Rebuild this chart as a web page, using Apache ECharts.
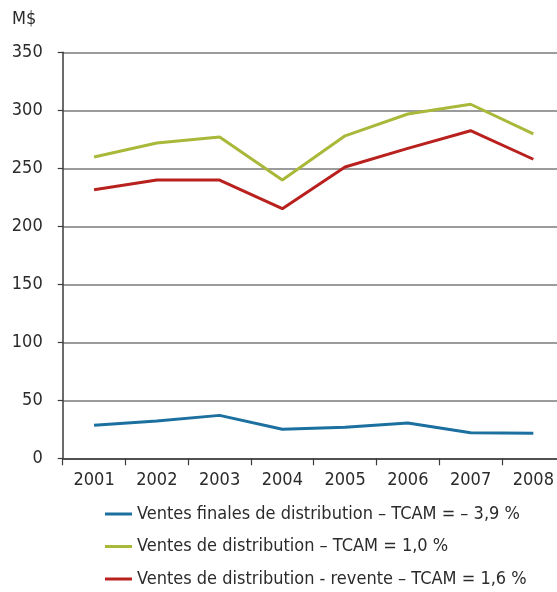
<!DOCTYPE html>
<html>
<head>
<meta charset="utf-8">
<script src="https://cdn.jsdelivr.net/npm/echarts@6/dist/echarts.min.js"></script>
<style>
  html, body { margin: 0; padding: 0; background: #fff; }
  #chart { width: 557px; height: 592px; }
</style>
</head>
<body>
<div id="chart"></div>
<script>
// Years on the category axis
const years = ['2001', '2002', '2003', '2004', '2005', '2006', '2007', '2008'];

// Sales, in millions of dollars
const ventesFinales = [28.4, 32.2, 37.0, 25.0, 26.7, 30.4, 22.0, 21.5];
const ventesDistribution = [259.7, 271.8, 277.0, 239.9, 278.0, 296.8, 305.2, 279.6];
const ventesRevente = [231.6, 239.9, 239.9, 215.2, 251.1, 267.2, 282.4, 257.8];

const seriesNames = [
  'Ventes finales de distribution – TCAM = – 3,9 %',
  'Ventes de distribution – TCAM = 1,0 %',
  'Ventes de distribution - revente – TCAM = 1,6 %'
];

// Value axis ticks
const yMin = 0, yMax = 350, yStep = 50;
const unitLabel = 'M$';

const FONT = '"DejaVu Sans Condensed", "Liberation Sans Narrow", "Roboto", sans-serif';
const TEXT = '#2b2b2b';
const colors = ['#1c70a0', '#aab83a', '#b8211d'];

const chart = echarts.init(document.getElementById('chart'), null, { renderer: 'canvas' });

chart.setOption({
  animation: false,
  color: colors,
  textStyle: { fontFamily: FONT, color: TEXT },
  title: {
    text: unitLabel,
    left: 12,
    top: 10,
    padding: 0,
    textStyle: { fontFamily: FONT, fontSize: 18, fontWeight: 'normal', color: TEXT }
  },
  // The plot runs slightly past the right edge of the canvas
  grid: {
    left: 62.7, width: 502, top: 52.3, height: 406,
    containLabel: false,
    outerBoundsMode: 'none'
  },
  legend: {
    orient: 'vertical',
    left: 105,
    top: 505,
    padding: 0,
    itemWidth: 27,
    itemHeight: 3,
    itemGap: 14.5,
    icon: 'rect',
    textStyle: { fontFamily: FONT, fontSize: 18, color: TEXT },
    data: seriesNames
  },
  xAxis: {
    type: 'category',
    data: years,
    boundaryGap: true,
    axisLine: { show: true, lineStyle: { color: '#3a3a3a', width: 1.5 } },
    axisTick: { show: true, length: 7, inside: false, lineStyle: { color: '#3a3a3a', width: 1.2 } },
    axisLabel: { fontFamily: FONT, fontSize: 18, color: TEXT, margin: 13 },
    splitLine: { show: false }
  },
  yAxis: {
    type: 'value',
    min: yMin,
    max: yMax,
    interval: yStep,
    axisLine: { show: true, lineStyle: { color: '#3a3a3a', width: 1.5 } },
    axisTick: { show: true, length: 5, lineStyle: { color: '#3a3a3a', width: 1.2 } },
    axisLabel: { fontFamily: FONT, fontSize: 18, color: TEXT, margin: 20 },
    splitLine: { show: true, lineStyle: { color: '#7a7a7a', width: 1.5 } }
  },
  series: [
    { name: seriesNames[0], type: 'line', data: ventesFinales, showSymbol: false, lineStyle: { width: 3 } },
    { name: seriesNames[1], type: 'line', data: ventesDistribution, showSymbol: false, lineStyle: { width: 3 } },
    { name: seriesNames[2], type: 'line', data: ventesRevente, showSymbol: false, lineStyle: { width: 3 } }
  ]
});
</script>
</body>
</html>
